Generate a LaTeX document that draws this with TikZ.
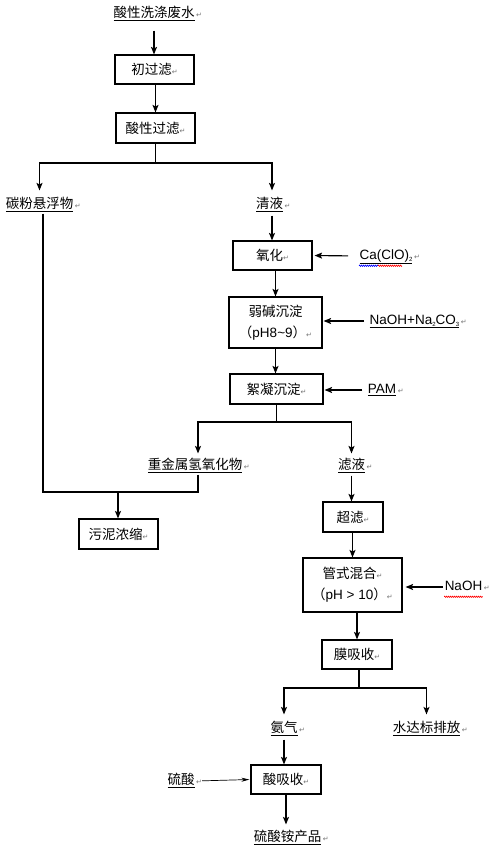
\documentclass[tikz,border=0pt]{standalone}
\usepackage{fontspec}
\setmainfont{Noto Sans CJK SC}
\newfontfamily\lat{Liberation Sans}
\newfontfamily\dv{DejaVu Sans}
\usetikzlibrary{arrows.meta,calc,decorations.pathmorphing}
\newcommand{\ret}{{\dv\fontsize{7}{7}\selectfont\textcolor{black!55}{↵}}}
\newcommand{\sbs}[1]{\raisebox{-1.5pt}{\fontsize{6}{6}\selectfont #1}}
\begin{document}
\begin{tikzpicture}[x=1pt,y=-1pt,
  font=\fontsize{13.5}{21}\selectfont,
  line width=1.15pt,
  box/.style={draw, line width=1.15pt, align=center, inner sep=1pt},
  lab/.style={inner sep=1pt, text height=10.5pt, text depth=3.5pt,
    label={[inner sep=0pt, label distance=-0.5pt, yshift=-1.5pt]right:\ret}},
  latf/.style={font=\lat\fontsize{13.5}{16}\selectfont},
  arr/.style={-{Stealth[length=7.5pt,width=6pt,inset=1.5pt]}},
  arrt/.style={line width=0.7pt,-{Stealth[length=8pt,width=4pt,inset=2.5pt]}},
  wavy/.style={line width=0.6pt, decorate, decoration={zigzag, amplitude=0.7pt, segment length=2pt}}
]
\useasboundingbox (0,0) rectangle (489,851);
% nodes
\node[lab] (t0) at (154,14) {\underline{酸性洗涤废水}};
\node[box, minimum width=79pt, minimum height=29pt] (b1) at (154.5,69.5) {初过滤\ret};
\node[box, minimum width=79pt, minimum height=30pt] (b2) at (155.5,128) {酸性过滤\ret};
\node[lab] (t1) at (39.5,205) {\underline{碳粉悬浮物}};
\node[lab] (t2) at (269.5,205) {\underline{清液}};
\node[box, minimum width=79pt, minimum height=29pt] (b3) at (272.5,255.5) {氧化\ret};
\node[lab, latf] (t3) at (386,256) {\underline{Ca(ClO)\sbs{2}}};
\node[box, minimum width=93pt, minimum height=51pt] (b4) at (275.5,322.5)
  {弱碱沉淀\\ （{\lat pH8\textasciitilde9}）\ret};
\node[lab, latf] (t4) at (414.5,321) {\underline{NaOH+Na\sbs{2}CO\sbs{3}}};
\node[box, minimum width=93pt, minimum height=30pt] (b5) at (276.5,389) {絮凝沉淀\ret};
\node[lab, latf] (t5) at (382,390) {\underline{PAM}};
\node[lab] (t6) at (195,466) {\underline{重金属氢氧化物}};
\node[lab] (t7) at (351.5,466) {\underline{滤液}};
\node[box, minimum width=79pt, minimum height=30pt] (b6) at (118.5,534) {污泥浓缩\ret};
\node[box, minimum width=60pt, minimum height=30pt] (b7) at (353,517) {超滤\ret};
\node[box, minimum width=99pt, minimum height=54pt] (b8) at (352.5,585)
  {管式混合\ret\\ （{\lat pH > 10}）\ret};
\node[inner sep=1pt, latf, text height=10.5pt, text depth=3.5pt,
  label={[inner sep=0pt, label distance=-0.5pt, yshift=-1.5pt]right:\ret}] (t8) at (463.5,587) {NaOH};
\node[box, minimum width=70pt, minimum height=29pt] (b9) at (357,654.5) {膜吸收\ret};
\node[lab] (t9) at (284,729) {\underline{氨气}};
\node[lab] (t10) at (426.5,729) {\underline{水达标排放}};
\node[box, minimum width=70pt, minimum height=29pt] (b10) at (286,779.5) {酸吸收\ret};
\node[lab] (t11) at (181,781) {\underline{硫酸}};
\node[lab] (t12) at (287.5,838) {\underline{硫酸铵产品}};
% spell-check wavy marks
\draw[wavy, blue] ($(t3.south west)+(1,1.2)$) -- ++(19,0) coordinate (w1);
\draw[wavy, red] (w1) -- ++(24,0);
\draw[wavy, red] ($(t8.south west)+(1,1.2)$) -- ($(t8.south east)+(-1,1.2)$);
% junction coordinates
\coordinate (j1) at (156,163);
\coordinate (j2) at (276.5,422);
\coordinate (j3) at (118,492);
\coordinate (j4) at (359,688);
% connectors
\draw[arr, shorten <=8pt] (t0.south) -- (t0.south |- b1.north);
\draw[arr] (b1.south -| b2.north) -- (b2.north);
\draw (b2.south) -- (b2.south |- j1);
\draw[arr] (j1) -| ([yshift=6pt]t1.north);
\draw[arr] (j1) -| ([xshift=2.5pt,yshift=6pt]t2.north);
\draw[arr, shorten <=2pt] ([xshift=2.5pt]t2.south) -- ([xshift=2.5pt]t2.south |- b3.north);
\draw[arr, shorten <=10pt, shorten >=2pt] (t3.west) -- (b3.east);
\draw[arr] (b3.south -| b4.north) -- (b4.north);
\draw[arr, shorten <=4pt, shorten >=1pt] (t4.west) -- (t4.west -| b4.east);
\draw[arr] (b4.south) -- (b4.south |- b5.north);
\draw[arr, shorten <=4pt, shorten >=1pt] (t5.west) -- (t5.west -| b5.east);
\draw (b5.south) -- (j2);
\draw[arr] (j2) -| ([xshift=3pt,yshift=4pt]t6.north);
\draw[arr] (j2) -| ([yshift=4pt]t7.north);
\draw ([xshift=3pt]t6.south) |- (j3);
\draw ([xshift=3.5pt]t1.south) |- (j3);
\draw[arr] (j3) -- (j3 |- b6.north);
\draw[arr, shorten <=1pt] (t7.south) -- (t7.south |- b7.north);
\draw[arr] (b7.south -| b8.north) -- (b8.north);
\draw[arr, shorten >=3pt] (t8.west) -- (t8.west -| b8.east);
\draw[arr] (b8.south -| b9.north) -- (b9.north);
\draw ([xshift=2pt]b9.south) -- ([xshift=2pt]b9.south |- j4);
\draw[arr] ([xshift=2pt]b9.south |- j4) -| ([yshift=6pt]t9.north);
\draw[arr] ([xshift=2pt]b9.south |- j4) -| ([yshift=6pt]t10.north);
\draw[arr, shorten <=2pt] (t9.south) -- (t9.south |- b10.north);
\draw[arrt, shorten <=6pt, shorten >=1pt] (t11.east) -- (b10.west);
\draw[arr, shorten >=5pt] (b10.south) -- (b10.south |- t12.north);
\end{tikzpicture}
\end{document}
